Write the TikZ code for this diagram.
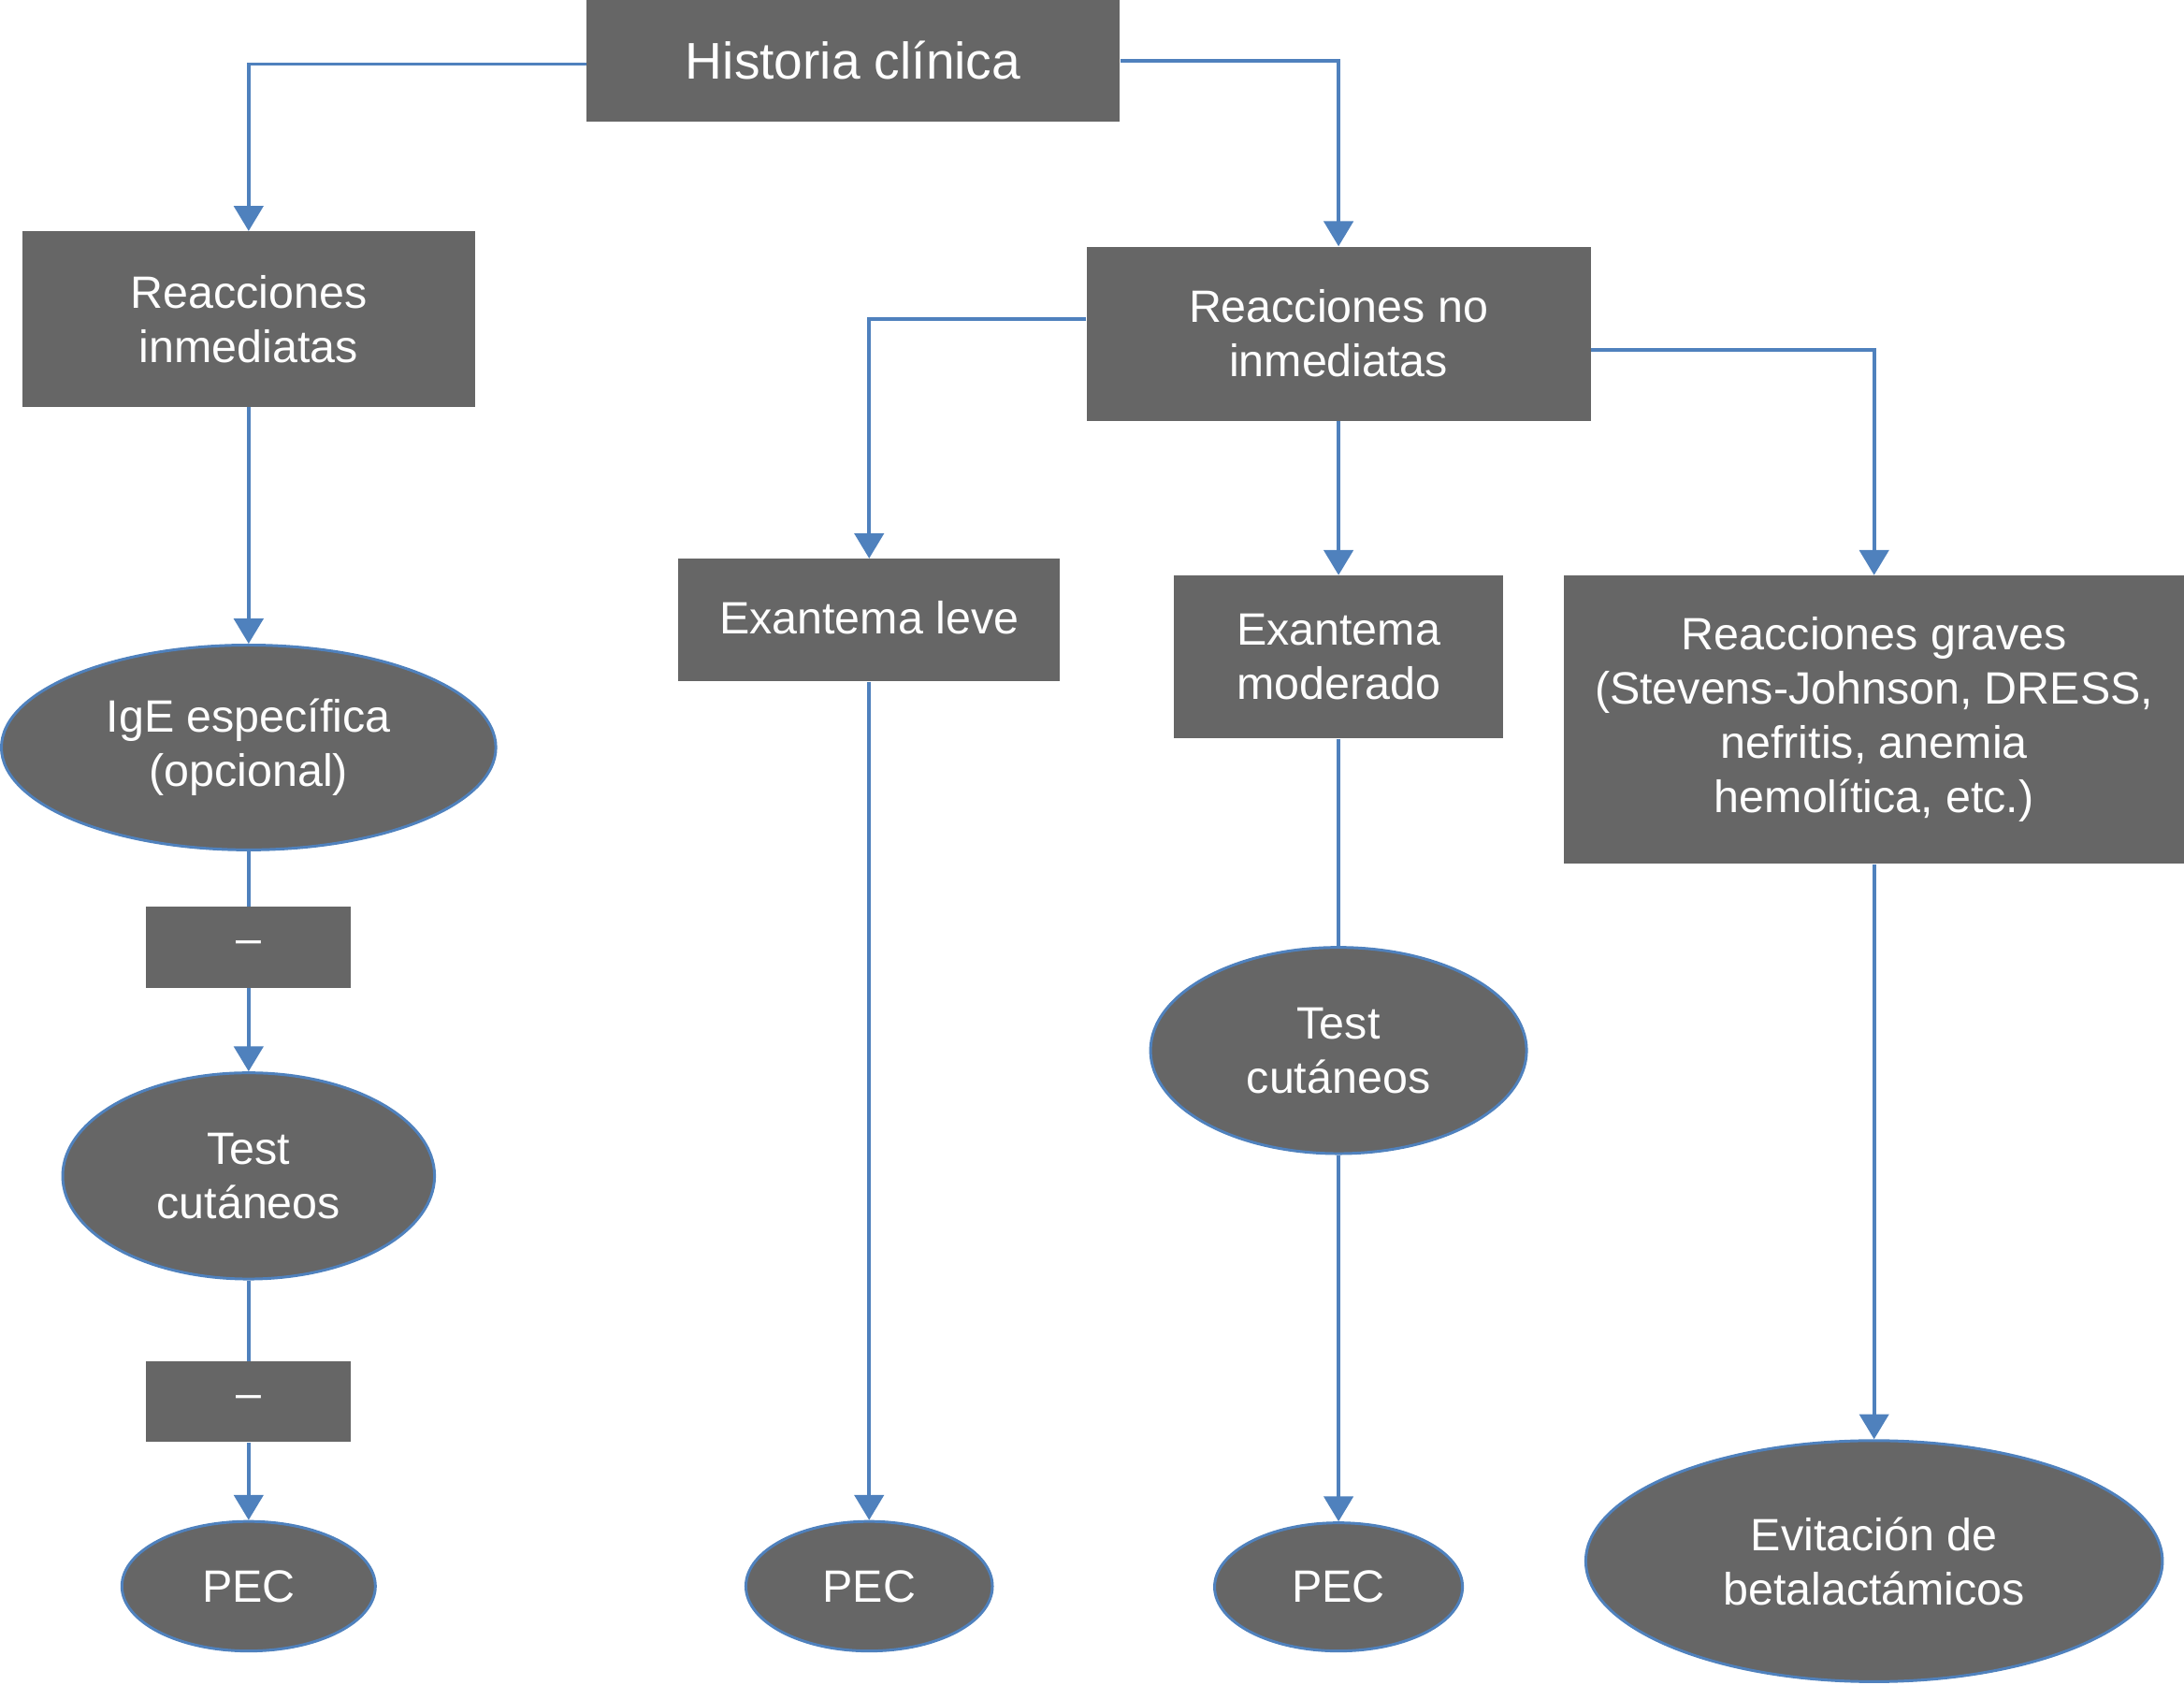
\documentclass[tikz,border=0pt]{standalone}
\usepackage{fontspec}
\setmainfont{Liberation Sans}
\usetikzlibrary{shapes.geometric,arrows.meta}
\definecolor{boxgray}{HTML}{666666}
\definecolor{lineblue}{HTML}{4F81BD}
\begin{document}
\begin{tikzpicture}[x=1pt,y=-1pt,
  every node/.style={text=white,align=center,inner sep=0pt,font=\fontsize{32.5}{39}\selectfont},
  rbox/.style={rectangle,fill=boxgray},
  ebox/.style={ellipse,fill=boxgray,draw=lineblue,line width=2pt},
  conn/.style={draw=lineblue,line width=2.5pt},
  arr/.style={conn,-{Triangle[width=21pt,length=18pt]}}]
\useasboundingbox (0,0) rectangle (1568,1209);
% nodes
\node[rbox,minimum width=383pt,minimum height=87pt,font=\fontsize{37}{44}\selectfont] (hist) at (612.5,43.5) {Historia clínica};
\node[rbox,minimum width=325pt,minimum height=126pt] (rinm) at (178.5,229) {Reacciones\\inmediatas};
\node[rbox,minimum width=362pt,minimum height=125pt] (rno) at (961,239.5) {Reacciones no\\inmediatas};
\node[rbox,minimum width=274pt,minimum height=88pt] (exl) at (624,445) {\raisebox{4pt}{Exantema leve}};
\node[rbox,minimum width=236pt,minimum height=117pt] (exm) at (961,471.5) {Exantema\\moderado};
\node[rbox,minimum width=445pt,minimum height=207pt] (grav) at (1345.5,516.5) {Reacciones graves\\(Stevens-Johnson, DRESS,\\nefritis, anemia\\hemolítica, etc.)};
\node[ebox,minimum width=355pt,minimum height=147pt] (ige) at (178.5,536.5) {IgE específica\\(opcional)};
\node[rbox,minimum width=147pt,minimum height=58pt] (m1) at (178.5,680) {–};
\node[ebox,minimum width=267pt,minimum height=148pt] (tcl) at (178.5,844) {Test\\cutáneos};
\node[rbox,minimum width=147pt,minimum height=58pt] (m2) at (178.5,1006) {–};
\node[ebox,minimum width=182pt,minimum height=93pt] (pec1) at (178.5,1138.5) {PEC};
\node[ebox,minimum width=177pt,minimum height=93pt] (pec2) at (624,1138.5) {PEC};
\node[ebox,minimum width=270pt,minimum height=148pt] (tcr) at (961,754) {Test\\cutáneos};
\node[ebox,minimum width=178pt,minimum height=92pt] (pec3) at (961,1139) {PEC};
\node[ebox,minimum width=414pt,minimum height=173pt] (evit) at (1345.5,1120.5) {Evitación de\\betalactámicos};
% connectors
\draw[arr] ([yshift=-2.5pt]hist.west) -| (rinm.north);
\draw[arr] (hist.east) -| (rno.north);
\draw[arr] (rinm.south) -- (ige.north);
\draw[arr] ([yshift=10.5pt]rno.west) -| (exl.north);
\draw[arr] (rno.south) -- (exm.north);
\draw[arr] ([yshift=-11.5pt]rno.east) -| (grav.north);
\draw[conn] (ige.south) -- (m1.north);
\draw[arr] (m1.south) -- (tcl.north);
\draw[conn] (tcl.south) -- (m2.north);
\draw[arr] (m2.south) -- (pec1.north);
\draw[arr] (exl.south) -- (pec2.north);
\draw[conn] (exm.south) -- (tcr.north);
\draw[arr] (tcr.south) -- (pec3.north);
\draw[arr] (grav.south) -- (evit.north);
\end{tikzpicture}
\end{document}
